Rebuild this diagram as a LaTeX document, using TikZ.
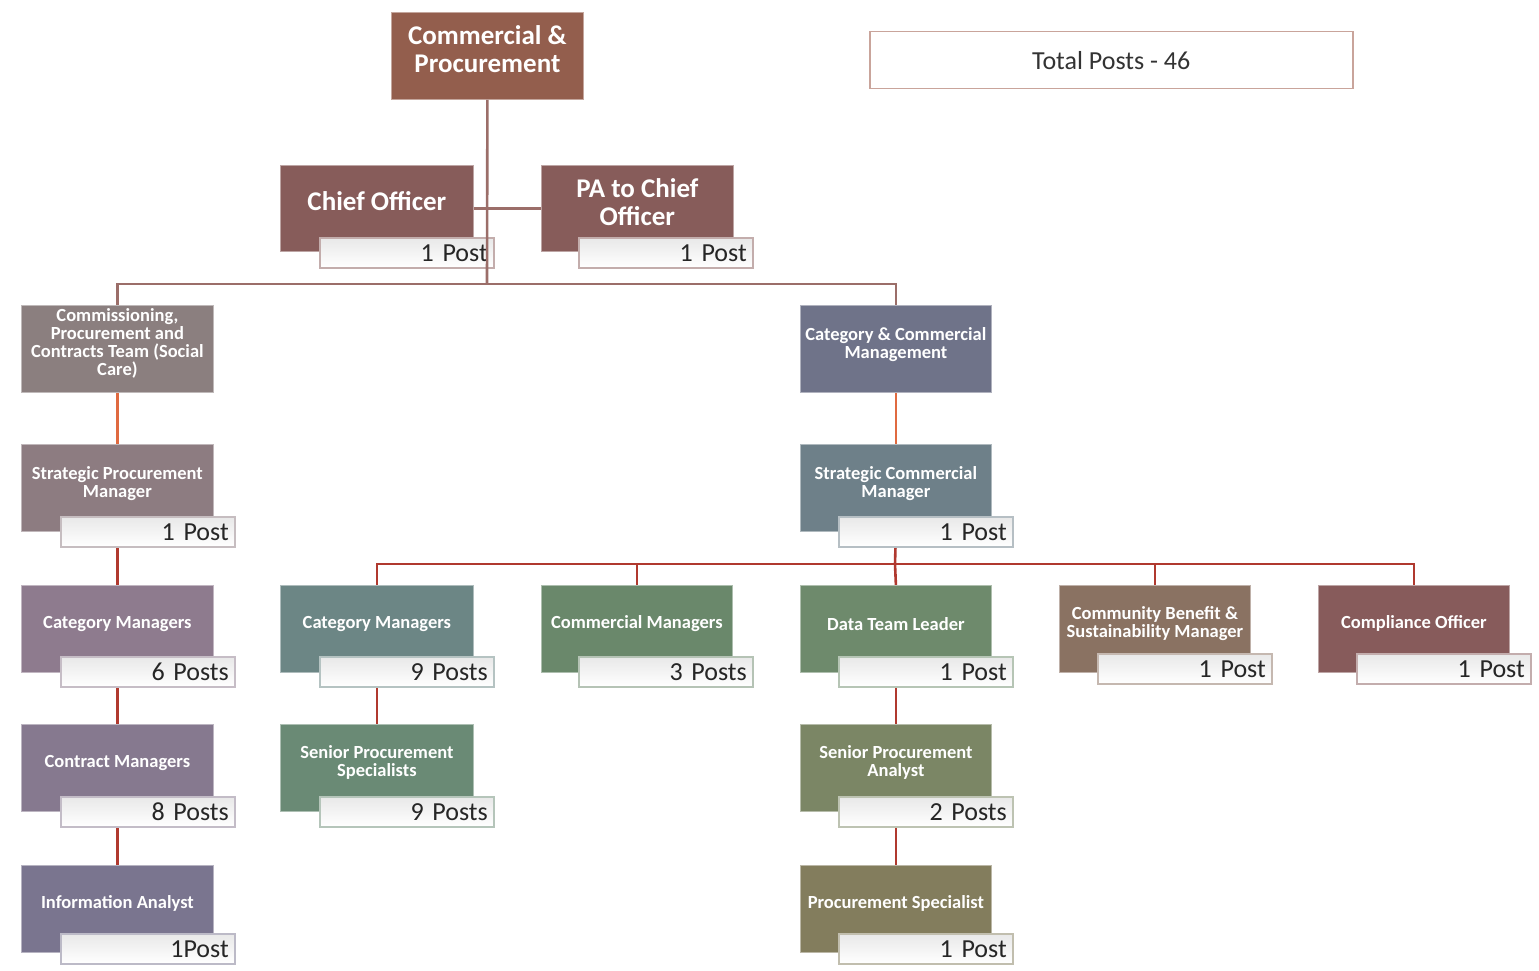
\documentclass[tikz,border=0pt]{standalone}
\usepackage{fontspec}
\setmainfont{Carlito}
\usetikzlibrary{calc,backgrounds}

% unit fills
\definecolor{cTop}{HTML}{935E4D}
\definecolor{cChief}{HTML}{875C5A}
\definecolor{cComm}{HTML}{8B7F7F}
\definecolor{cCatCom}{HTML}{6F7389}
\definecolor{cSPM}{HTML}{8D7C81}
\definecolor{cSCM}{HTML}{6E8089}
\definecolor{cCatL}{HTML}{8E7B8E}
\definecolor{cCatM}{HTML}{6C8685}
\definecolor{cComMgr}{HTML}{6A886B}
\definecolor{cData}{HTML}{6E8A6C}
\definecolor{cCBS}{HTML}{8A7262}
\definecolor{cCompl}{HTML}{875B5B}
\definecolor{cContr}{HTML}{86798F}
\definecolor{cSPS}{HTML}{6A8A75}
\definecolor{cSPA}{HTML}{7B8665}
\definecolor{cInfo}{HTML}{7A758F}
\definecolor{cPS}{HTML}{837D5D}
% connector colours
\definecolor{lTop}{HTML}{9B6E69}
\definecolor{lOrange}{HTML}{E06A40}
\definecolor{lRed}{HTML}{B0392F}
\definecolor{lTotal}{HTML}{C9A49B}

\begin{document}
\begin{tikzpicture}[x=1pt,y=-1pt,
  unit/.style={rectangle, anchor=north west, fill=#1, draw=#1!55!white,
    line width=0.8pt, minimum width=192pt, minimum height=87pt, inner sep=0pt},
  bigtxt/.style={text=white, font=\bfseries\fontsize{27}{28}\selectfont, align=center},
  smalltxt/.style={text=white, font=\bfseries\fontsize{18.5}{18}\selectfont, align=center},
  posts/.style={rectangle, anchor=north west, draw=#1!50!white, line width=1.5pt,
    top color=black!9, bottom color=white, minimum width=174pt, minimum height=30pt,
    text width=162pt, align=right, inner sep=5pt, yshift=-1pt,
    font=\fontsize{26}{26}\selectfont, text=black!85},
  conn/.style={line width=2.6pt, draw=#1}
]
\useasboundingbox (0,0) rectangle (1539,971);

% ---- head of service and total ----
\node[unit=cTop] (cp) at (391,12) {};
\node[bigtxt] (cp-t) at ($(cp.center)+(0,-7)$) {Commercial \&\\Procurement};

\node[rectangle, anchor=north west, draw=lTotal, line width=1.5pt, fill=white,
      minimum width=483pt, minimum height=57pt,
      font=\fontsize{26}{26}\selectfont, text=black!80] (total) at (869,31) {Total Posts - 46};

% ---- chief officer and PA ----
\node[unit=cChief, minimum width=193pt, minimum height=86pt] (co) at (280,165) {};
\node[bigtxt] (co-t) at ($(co.center)+(0,-7)$) {Chief Officer};
\node[posts=cChief] (co-p) at (319,236) {1 Post};

\node[unit=cChief, minimum width=192pt, minimum height=86pt] (pa) at (541,165) {};
\node[bigtxt] (pa-t) at ($(pa.center)+(0,-6)$) {PA to Chief\\Officer};
\node[posts=cChief] (pa-p) at (578,236) {1 Post};

% ---- left branch ----
\node[unit=cComm] (cpc) at (21,305) {};
\node[smalltxt] (cpc-t) at ($(cpc.center)+(0,-5)$) {Commissioning,\\Procurement and\\Contracts Team (Social\\Care)};

\node[unit=cSPM] (spm) at (21,444) {};
\node[smalltxt] (spm-t) at ($(spm.center)+(0,-4)$) {Strategic Procurement\\Manager};
\node[posts=cSPM] (spm-p) at (60,515) {1 Post};

\node[unit=cCatL] (cm1) at (21,585) {};
\node[smalltxt] (cm1-t) at ($(cm1.center)+(0,-5)$) {Category Managers};
\node[posts=cCatL] (cm1-p) at (60,655) {6 Posts};

\node[unit=cContr] (ctm) at (21,724) {};
\node[smalltxt] (ctm-t) at ($(ctm.center)+(0,-5)$) {Contract Managers};
\node[posts=cContr] (ctm-p) at (60,795) {8 Posts};

\node[unit=cInfo] (ia) at (21,865) {};
\node[smalltxt] (ia-t) at ($(ia.center)+(0,-5)$) {Information Analyst};
\node[posts=cInfo] (ia-p) at (60,932) {1Post};

% ---- right branch ----
\node[unit=cCatCom, minimum width=191pt] (ccm) at (800,305) {};
\node[smalltxt] (ccm-t) at ($(ccm.center)+(0,-4)$) {Category \& Commercial\\Management};

\node[unit=cSCM, minimum width=191pt] (scm) at (800,444) {};
\node[smalltxt] (scm-t) at ($(scm.center)+(0,-4)$) {Strategic Commercial\\Manager};
\node[posts=cSCM] (scm-p) at (838,515) {1 Post};

\node[unit=cCatM, minimum width=193pt] (cm2) at (280,585) {};
\node[smalltxt] (cm2-t) at ($(cm2.center)+(0,-5)$) {Category Managers};
\node[posts=cCatM] (cm2-p) at (319,655) {9 Posts};

\node[unit=cComMgr, minimum width=191pt] (cmm) at (541,585) {};
\node[smalltxt] (cmm-t) at ($(cmm.center)+(0,-5)$) {Commercial Managers};
\node[posts=cComMgr] (cmm-p) at (578,655) {3 Posts};

\node[unit=cData, minimum width=191pt] (dtl) at (800,585) {};
\node[smalltxt] (dtl-t) at ($(dtl.center)+(0,-5)$) {Data Team Leader};
\node[posts=cData] (dtl-p) at (838,655) {1 Post};

\node[unit=cCBS, minimum width=191pt] (cbs) at (1059,585) {};
\node[smalltxt] (cbs-t) at ($(cbs.center)+(0,-5)$) {Community Benefit \&\\Sustainability Manager};
\node[posts=cCBS] (cbs-p) at (1097,652) {1 Post};

\node[unit=cCompl, minimum width=191pt] (comp) at (1318,585) {};
\node[smalltxt] (comp-t) at ($(comp.center)+(0,-5)$) {Compliance Officer};
\node[posts=cCompl] (comp-p) at (1356,652) {1 Post};

\node[unit=cSPS, minimum width=193pt] (sps) at (280,724) {};
\node[smalltxt] (sps-t) at ($(sps.center)+(0,-5)$) {Senior Procurement\\Specialists};
\node[posts=cSPS] (sps-p) at (319,795) {9 Posts};

\node[unit=cSPA, minimum width=191pt] (spa) at (800,724) {};
\node[smalltxt] (spa-t) at ($(spa.center)+(0,-5)$) {Senior Procurement\\Analyst};
\node[posts=cSPA] (spa-p) at (838,795) {2 Posts};

\node[unit=cPS, minimum width=191pt] (ps) at (800,865) {};
\node[smalltxt] (ps-t) at ($(ps.center)+(0,-5)$) {Procurement Specialist};
\node[posts=cPS] (ps-p) at (838,932) {1 Post};

% ---- junction points ----
\coordinate (hub) at (487,284);
\coordinate (bus) at (895,564);

% ---- connectors behind the boxes ----
\begin{pgfonlayer}{background}
  \draw[conn=lTop] (co.east) -- (pa.west);
  \draw[conn=lTop] (cpc.north) |- (hub) -| (ccm.north);
  \draw[conn=lOrange] (cpc.south) -- (spm.north);
  \draw[conn=lOrange] (ccm.south) -- (scm.north);
  \draw[conn=lRed] (spm.south) -- (cm1.north);
  \draw[conn=lRed] (cm1.south) -- (ctm.north);
  \draw[conn=lRed] (ctm.south) -- (ia.north);
  \draw[conn=lRed] (scm.south) -- (bus);
  \draw[conn=lRed] (cm2.north) |- (bus) -| (comp.north);
  \draw[conn=lRed] (cmm.north) -- (cmm.north |- bus);
  \draw[conn=lRed] (dtl.north) -- (bus);
  \draw[conn=lRed] (cbs.north) -- (cbs.north |- bus);
  \draw[conn=lRed] (cm2.south) -- (sps.north);
  \draw[conn=lRed] (dtl.south) -- (spa.north);
  \draw[conn=lRed] (spa.south) -- (ps.north);
\end{pgfonlayer}

% head line runs over the chief officer's post box
\draw[conn=lTop] (cp.south) -- (hub);
\end{tikzpicture}
\end{document}
